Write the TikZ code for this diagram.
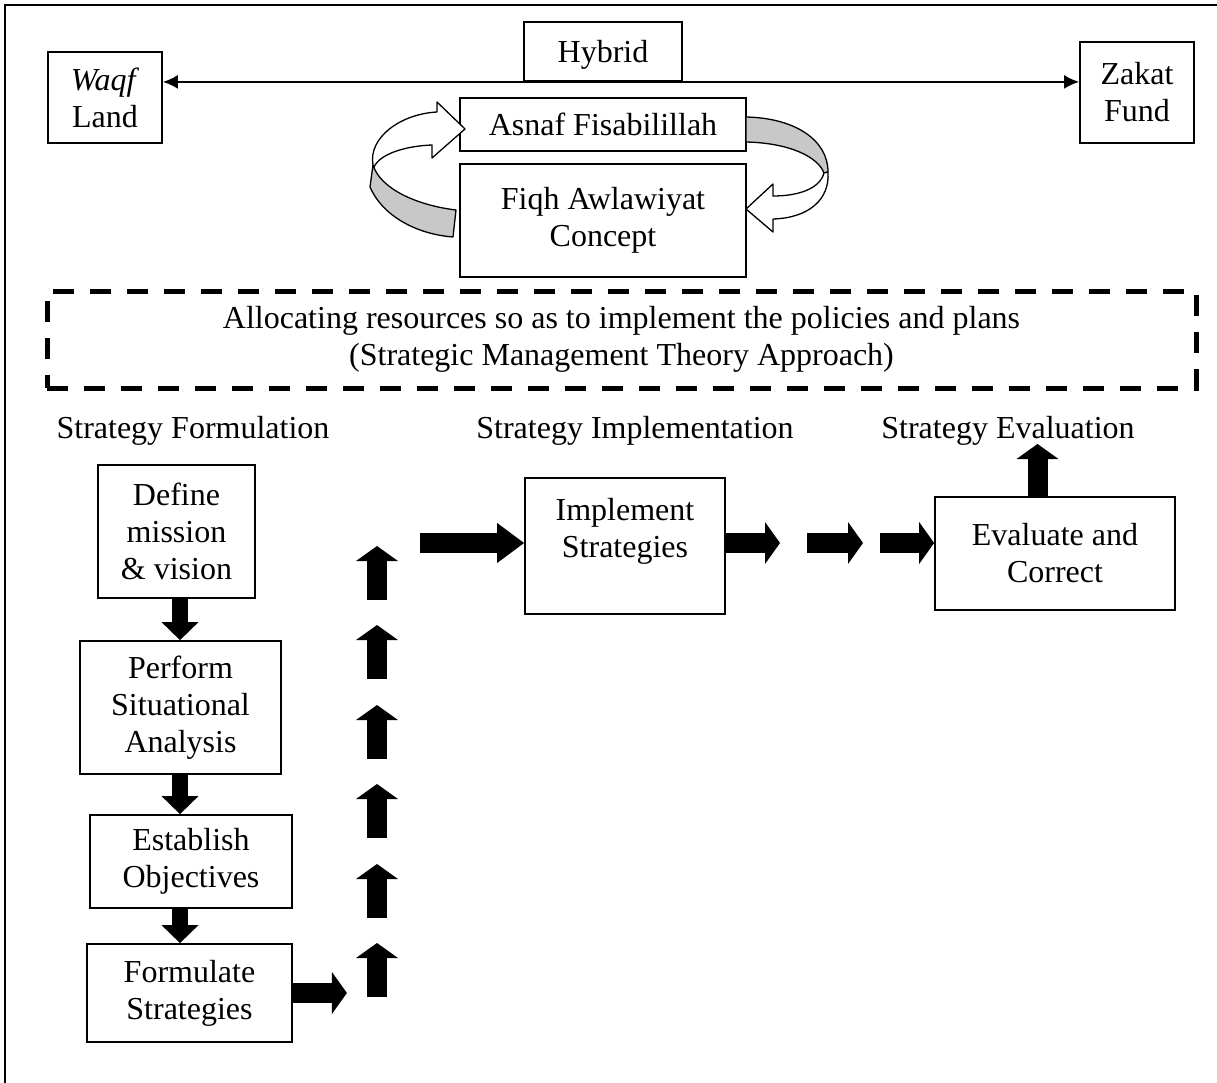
\documentclass[tikz,border=0pt]{standalone}
\usepackage{fontspec,tikz}
\usetikzlibrary{arrows.meta}
\setmainfont{Liberation Serif}
\definecolor{ribbongray}{RGB}{200,200,200}

\begin{document}
\begin{tikzpicture}[x=1pt,y=-1pt,
  every node/.style={font=\fontsize{32}{37}\selectfont},
  box/.style={draw,line width=1.8pt,inner sep=0pt,align=center},
  link/.style={line width=1.8pt,{Latex[length=15pt,width=14pt]}-{Latex[length=15pt,width=14pt]}},
  ribbon/.style={line width=1.3pt,line join=round},
  blockdown/.style={line width=16pt,-{Triangle[length=18pt,width=37pt,line width=0pt]}},
  blockarrow/.style={line width=20pt,-{Triangle[length=15pt,width=42pt,line width=0pt]}},
  blocklong/.style={line width=20pt,-{Triangle[length=27pt,width=40pt,line width=0pt]}}]
\path[use as bounding box] (0,0) rectangle (1217,1083);
\draw[line width=2.5pt] (5,1083) -- (5,5) -- (1217,5);
% top part
\node[box,minimum width=158,minimum height=59,text depth=0pt] (hybrid) at (603,51.5) {Hybrid};
\node[box,minimum width=114,minimum height=91] (waqf) at (105,97.5) {\textit{Waqf}\\Land};
\node[box,minimum width=114,minimum height=101] (zakat) at (1137,92.5) {Zakat\\Fund};
\draw[link] (waqf.east |- hybrid.south) -- (zakat.west |- hybrid.south);
\node[box,minimum width=286,minimum height=53] (asnaf) at (603,124.5) {Asnaf Fisabilillah};
\node[box,minimum width=286,minimum height=113] (fiqh) at (603,220.5) {Fiqh Awlawiyat\\Concept};
% circular ribbons
\filldraw[ribbon,fill=ribbongray] (456,210) .. controls (415,205) and (380,188) .. (373,165) -- (370,187) .. controls (382,215) and (415,234) .. (453,237) -- cycle;
\filldraw[ribbon,fill=white] (373,165) .. controls (368,138) and (400,114) .. (437,112) -- (437,102) -- (465,129) -- (432,158) -- (432,145) .. controls (405,146) and (380,154) .. (374,167) -- cycle;
\filldraw[ribbon,fill=ribbongray] (746,117) .. controls (795,118) and (828,140) .. (828,172) -- (824,173) .. controls (818,157) and (790,143) .. (746,142) -- cycle;
\filldraw[ribbon,fill=white] (824,173) .. controls (820,188) and (800,196) .. (773,196) -- (773,184) -- (746,209) -- (773,232) -- (773,219) .. controls (808,218) and (830,200) .. (828,172) -- cycle;
% approach
\node[draw,line width=5pt,dash pattern=on 21pt off 16pt,inner sep=0pt,align=center,minimum width=1149,minimum height=97] (alloc) at (621.5,339.5) {Allocating resources so as to implement the policies and plans\\(Strategic Management Theory Approach)};
\node (hform) at (193,431) {Strategy Formulation};
\node (himpl) at (635,431) {Strategy Implementation};
\node (heval) at (1008,431) {Strategy Evaluation};
% formulation
\node[box,minimum width=157,minimum height=133] (define) at (176.5,531.5) {Define\\mission\\\& vision};
\node[box,minimum width=201,minimum height=133] (perform) at (180.5,707.5) {Perform\\Situational\\Analysis};
\node[box,minimum width=202,minimum height=93] (establish) at (191,861.5) {Establish\\Objectives};
\node[box,minimum width=205,minimum height=98] (formulate) at (189.5,993) {Formulate\\Strategies};
\coordinate (col) at (180,0);
\draw[blockdown] (col |- define.south) -- (col |- perform.north);
\draw[blockdown] (col |- perform.south) -- (col |- establish.north);
\draw[blockdown] (col |- establish.south) -- (col |- formulate.north);
\draw[blockarrow] (formulate.east) -- ++(54,0);
\foreach \y in {546,625,705,784,864,943}
  \draw[blockarrow] (377,\y+54) -- (377,\y);
% implementation and evaluation
\node[box,minimum width=200,minimum height=136] (impl) at (625,546) {};
\node[align=center] (impltext) at (625,531) {Implement\\Strategies};
\node[box,minimum width=240,minimum height=113] (eval) at (1055,553.5) {Evaluate and\\Correct};
\coordinate (row) at (0,543);
\draw[blocklong] (420,543) -- (impl.west |- row);
\draw[blockarrow] (impl.east |- row) -- (780,543);
\draw[blockarrow] (807,543) -- (863,543);
\draw[blockarrow] (880,543) -- (eval.west |- row);
\draw[blockarrow] ([xshift=-17.5pt]eval.north) -- (1037.5,444);
\end{tikzpicture}
\end{document}
